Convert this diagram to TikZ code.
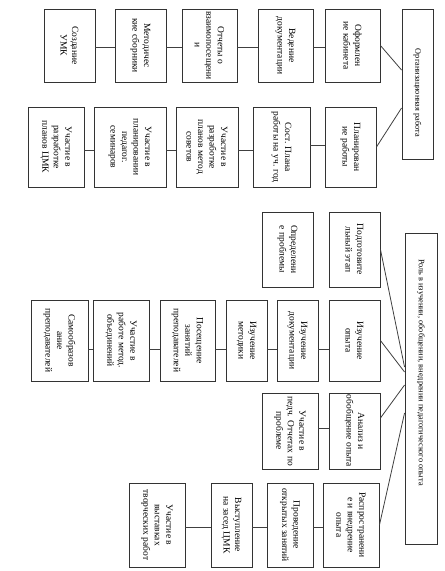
\documentclass[tikz,border=0pt]{standalone}
\usepackage{fontspec}
\setmainfont{Liberation Serif}
\usetikzlibrary{calc}
\definecolor{boxc}{gray}{0.2}
\definecolor{linec}{gray}{0.25}
\newcommand\mybox[6]{%
  \node[box, minimum width=#4pt, minimum height=#5pt] (#1) at (#2,#3) {};
  \node[txt] (#1t) at (#1.center) {#6};}
\begin{document}
\begin{tikzpicture}[x=1pt,y=-1pt,
  box/.style={draw=boxc, line width=0.9pt, fill=white, inner sep=0pt},
  txt/.style={rotate=-90, align=center, font=\fontsize{9.5}{11.5}\selectfont, inner sep=0pt},
  bigtxt/.style={rotate=-90, align=center, font=\fontsize{8.3}{10}\selectfont, inner sep=0pt},
  link/.style={draw=linec, line width=0.8pt}]
\fill[white] (0,0) rectangle (445,571);
\useasboundingbox (0,0) rectangle (445,571);

% ---------- top block ----------
\node[box, minimum width=31pt, minimum height=150pt] (big1) at (417.5,84) {};
\node[bigtxt] (big1t) at ($(big1.center)+(0,9)$) {Организационная работа};

\mybox{r1a}{352.5}{45.5}{55}{73}{Оформлен\\ие кабинета}
\mybox{r1b}{285.5}{45.5}{55}{73}{Ведение\\документации}
\mybox{r1c}{209.5}{45.5}{55}{73}{Отчеты о\\взаимопосещени\\и}
\mybox{r1d}{140.5}{45.5}{51}{73}{Методичес\\кие сборники}
\mybox{r1e}{69.5}{45.5}{51}{73}{Создание\\УМК}

\mybox{r2a}{350.5}{147}{51}{80}{Планирован\\ие работы}
\mybox{r2b}{281.5}{147}{57}{80}{Сост. Плана\\работы на уч. год}
\mybox{r2c}{207}{147}{62}{80}{Участие в\\разработке\\планов метод\\советов}
\mybox{r2d}{130}{147}{72}{80}{Участие в\\планировании\\педагог.\\семинаров}
\mybox{r2e}{56}{147}{56}{80}{Участие в\\разработке\\планов ЦМК}

\draw[link] (r1a.east) -- ($(big1.west)+(0,-14)$);
\draw[link] (r2a.east) -- ($(big1.west)+(0,24)$);
\draw[link] (r1a.west |- 0,47) -- (r1b.east |- 0,47);
\draw[link] (r1b.west |- 0,47) -- (r1c.east |- 0,47);
\draw[link] (r1c.west |- 0,47) -- (r1d.east |- 0,47);
\draw[link] (r1d.west |- 0,47) -- (r1e.east |- 0,47);
\draw[link] (r2a.west |- 0,145) -- (r2b.east |- 0,145);
\draw[link] (r2b.west |- 0,150) -- (r2c.east |- 0,150);
\draw[link] (r2c.west |- 0,150) -- (r2d.east |- 0,150);
\draw[link] (r2d.west |- 0,150) -- (r2e.east |- 0,150);

% ---------- bottom block ----------
\node[box, minimum width=32pt, minimum height=311pt] (big2) at (421,388.5) {};
\node[bigtxt] (big2t) at ($(big2.center)+(0,-16)$) {Роль в изучении, обобщении, внедрении педагогического опыта};

\mybox{p1}{354.5}{249.5}{51}{75}{Подготовите\\льный этап}
\mybox{p2}{287.5}{249.5}{51}{75}{Определени\\е проблемы}

\mybox{i1}{354.5}{340.5}{51}{81}{Изучение\\опыта}
\mybox{i2}{297.5}{340.5}{41}{81}{Изучение\\документации}
\mybox{i3}{246.5}{340.5}{41}{81}{Изучение\\методики}
\mybox{i4}{187.5}{340.5}{55}{81}{Посещение\\занятий\\преподавателей}
\mybox{i5}{121}{340.5}{56}{81}{Участие в\\работе метод.\\объединений}
\mybox{i6}{59.5}{340.5}{57}{81}{Самообразов\\ание\\преподавателей}

\mybox{a1}{354.5}{431}{51}{76}{Анализ и\\обобщение опыта}
\mybox{a2}{290}{431}{56}{76}{Участие в\\педч. Отчетах по\\проблеме}

\mybox{d1}{351}{525}{56}{84}{Распространени\\е и внедрение\\опыта}
\mybox{d2}{290}{525}{46}{84}{Проведение\\открытых занятий}
\mybox{d3}{231.5}{525}{41}{84}{Выступление\\на засед ЦМК}
\mybox{d4}{157}{525}{56}{84}{Участие в\\выставках\\творческих работ}

\draw[link] (p1.east) -- ($(big2.west)+(0,-21.5)$);
\draw[link] (i1.east) -- ($(big2.west)+(0,-16.5)$);
\draw[link] ($(a1.east)+(0,-13)$) -- ($(big2.west)+(0,-3.5)$);
\draw[link] (d1.east) -- ($(big2.west)+(0,24.5)$);

\draw[link] (i1.west |- 0,349) -- (i2.east |- 0,349);
\draw[link] (i2.west |- 0,349) -- (i3.east |- 0,349);
\draw[link] (i3.west |- 0,349) -- (i4.east |- 0,349);
\draw[link] (i4.west |- 0,349) -- (i5.east |- 0,349);
\draw[link] (i5.west |- 0,349) -- (i6.east |- 0,349);
\draw[link] (a1.west |- 0,428) -- (a2.east |- 0,428);
\draw[link] (d1.west |- 0,527) -- (d2.east |- 0,527);
\draw[link] (d2.west |- 0,527) -- (d3.east |- 0,527);
\draw[link] (d3.west |- 0,527) -- (d4.east |- 0,527);
\end{tikzpicture}
\end{document}
